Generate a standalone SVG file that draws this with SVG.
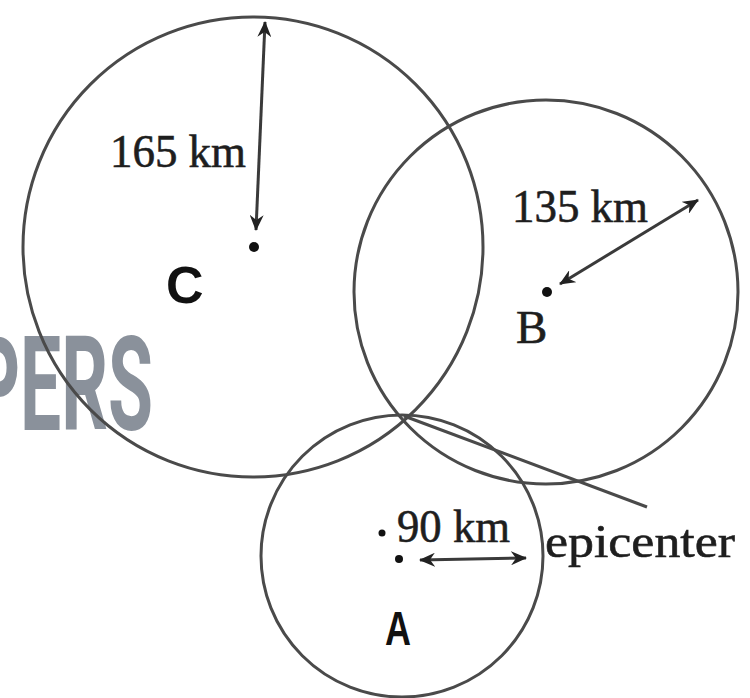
<svg xmlns="http://www.w3.org/2000/svg" width="750" height="698" viewBox="0 0 750 698">
  <style>
    .ring { fill: none; stroke: #4a4a4a; stroke-width: 3; }
    .dim { fill: none; stroke: #3a3a3a; stroke-width: 3; }
    .lbl { font-family: "Liberation Serif", "Times New Roman", serif; font-size: 47px; fill: #1e1e1e; stroke: #1e1e1e; stroke-width: 0.6; }
    .hand { font-family: "Liberation Sans", Arial, sans-serif; font-weight: bold; fill: #111; }
    .dot { fill: #111; }
    .wm { font-family: Roboto, "Liberation Sans", sans-serif; font-weight: bold; font-size: 132px; fill: #8a919b; }
  </style>
  <defs>
    <marker id="ah" viewBox="0 0 16 14" refX="15" refY="7" markerWidth="16" markerHeight="14" markerUnits="userSpaceOnUse" orient="auto-start-reverse">
      <path d="M0,0 L16,7 L0,14 L5,7 Z" fill="#222"/>
    </marker>
  </defs>
  <rect width="750" height="698" fill="#ffffff"/>

  <text class="wm" x="-27" y="430" textLength="180" lengthAdjust="spacingAndGlyphs">PERS</text>

  <g id="circle-C">
    <circle class="ring" cx="253" cy="247" r="230"/>
    <circle class="dot" cx="254" cy="247" r="5"/>
    <text class="hand" x="166" y="303" font-size="52">C</text>
    <text class="lbl" x="110" y="167" textLength="136" lengthAdjust="spacingAndGlyphs">165 km</text>
  </g>

  <g id="circle-B">
    <circle class="ring" cx="546" cy="292" r="192"/>
    <circle class="dot" cx="547" cy="292" r="5"/>
    <text class="lbl" x="516" y="343">B</text>
    <text class="lbl" x="512" y="222" textLength="136" lengthAdjust="spacingAndGlyphs">135 km</text>
  </g>

  <g id="circle-A">
    <circle class="ring" cx="402" cy="556" r="141"/>
    <circle class="dot" cx="382" cy="533" r="3.5"/>
    <circle class="dot" cx="399" cy="559" r="4"/>
    <text class="hand" x="385" y="645" font-size="48" textLength="26" lengthAdjust="spacingAndGlyphs">A</text>
    <text class="lbl" x="397" y="542" textLength="113" lengthAdjust="spacingAndGlyphs">90 km</text>
  </g>

  <g id="epicenter">
    <text class="lbl" x="545" y="557" textLength="190" lengthAdjust="spacingAndGlyphs">epicenter</text>
  </g>

  <g id="connectors">
    <line class="dim" x1="256" y1="230" x2="265" y2="22" marker-start="url(#ah)" marker-end="url(#ah)"/>
    <line class="dim" x1="560" y1="284" x2="698" y2="200" marker-start="url(#ah)" marker-end="url(#ah)"/>
    <line class="dim" x1="420" y1="560" x2="526" y2="558" marker-start="url(#ah)" marker-end="url(#ah)"/>
    <line class="ring" x1="404" y1="416" x2="647" y2="507"/>
  </g>
</svg>
